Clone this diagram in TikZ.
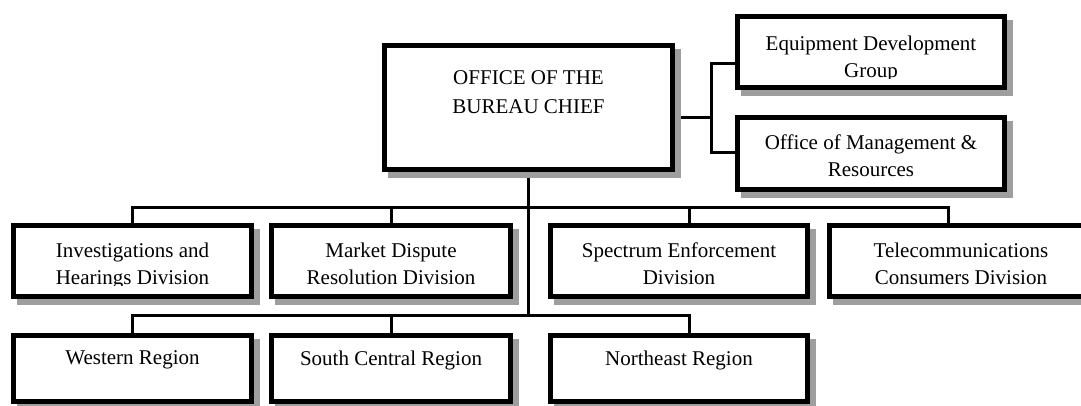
\documentclass[tikz,border=0pt]{standalone}
\usepackage{fontspec}
\setmainfont{Liberation Serif}
\definecolor{shadowgray}{gray}{0.62}
\tikzset{
  orgbox/.style={draw=black, line width=5pt, fill=white, inner sep=0pt,
    preaction={draw=shadowgray, fill=shadowgray, line width=5pt,
      transform canvas={shift={(6pt,-6pt)}}}},
  boxtext/.style={anchor=north, inner sep=0pt, align=center,
    font=\fontsize{21}{27}\selectfont},
  conn/.style={draw=black, line width=3pt}
}
\begin{document}
\begin{tikzpicture}[x=1pt, y=-1pt]
\useasboundingbox (0,0) rectangle (1081,405);

% junction points of the buses
\coordinate (divbus) at (528.5,207);
\coordinate (regbus) at (528.5,315);
\coordinate (staff)  at (711,117);

% connectors (drawn first, boxes cover their ends)
\draw[conn] (528.5,170) -- (regbus);
\draw[conn] (132.5,223) |- (divbus) -| (948,223);
\draw[conn] (391,223) -- (391,207);
\draw[conn] (689,223) -- (689,207);
\draw[conn] (132.5,333) |- (regbus) -| (689,333);
\draw[conn] (391,333) -- (391,315);
\draw[conn] (673,117) -- (staff);
\draw[conn] (737,63) -| (staff) |- (737,152);

% boxes
\node[orgbox, minimum width=288, minimum height=124] (chief) at (528.5,107.5) {};
\node[orgbox, minimum width=267, minimum height=71]  (equip) at (871,52) {};
\node[orgbox, minimum width=267, minimum height=72]  (mgmt)  at (871,153.5) {};
\node[orgbox, minimum width=238, minimum height=71]  (inv)   at (132.5,261) {};
\node[orgbox, minimum width=239, minimum height=71]  (mkt)   at (391,261) {};
\node[orgbox, minimum width=257, minimum height=71]  (spec)  at (679,261) {};
\node[orgbox, minimum width=263, minimum height=71]  (tel)   at (961,261) {};
\node[orgbox, minimum width=238, minimum height=66]  (west)  at (132.5,368.5) {};
\node[orgbox, minimum width=239, minimum height=66]  (sc)    at (391,368.5) {};
\node[orgbox, minimum width=257, minimum height=66]  (ne)    at (679,368.5) {};

% labels
\node[boxtext, font=\fontsize{21}{29}\selectfont] (chiefT) at (528.5,70.7) {OFFICE OF THE\\BUREAU CHIEF};
\begin{scope}
  \clip (740,19) rectangle (1002,78);
  \node[boxtext] (equipT) at (871,35.7) {Equipment Development\\Group};
\end{scope}
\node[boxtext] (mgmtT) at (871,134.7) {Office of Management \&\\Resources};
\begin{scope}
  \clip (16,228) rectangle (249,285);
  \node[boxtext] (invT) at (132.5,242.7) {Investigations and\\Hearings Division};
\end{scope}
\node[boxtext] (mktT)  at (391,242.7) {Market Dispute\\Resolution Division};
\node[boxtext] (specT) at (679,242.7) {Spectrum Enforcement\\Division};
\node[boxtext] (telT)  at (961,242.7) {Telecommunications\\Consumers Division};
\node[boxtext] (westT) at (132.5,350.7) {Western Region};
\node[boxtext] (scT)   at (391,350.7) {South Central Region};
\node[boxtext] (neT)   at (679,350.7) {Northeast Region};
\end{tikzpicture}
\end{document}
